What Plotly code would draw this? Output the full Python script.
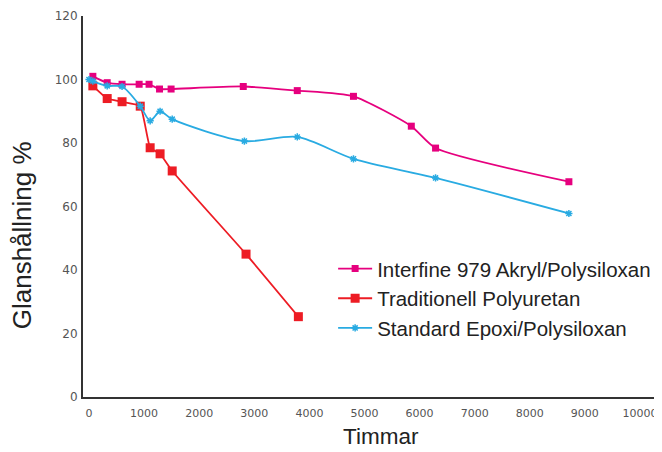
import plotly.graph_objects as go

names = ["Interfine 979 Akryl/Polysiloxan", "Traditionell Polyuretan", "Standard Epoxi/Polysiloxan"]
x_title = "Timmar"
y_title = "Glanshållning %"

x_interfine = [70, 330, 600, 910, 1090, 1280, 1490, 2800, 3780, 4800, 5850, 6290, 8710]
y_interfine = [101, 99, 98.5, 98.5, 98.5, 97, 97, 97.8, 96.5, 94.7, 85.3, 78.4, 67.8]

x_trad = [70, 330, 600, 930, 1110, 1290, 1510, 2850, 3800]
y_trad = [98, 94, 93, 91.6, 78.5, 76.6, 71.2, 45, 25.3]

x_epoxi = [0, 70, 330, 600, 930, 1110, 1290, 1510, 2820, 3780, 4800, 6290, 8710]
y_epoxi = [100, 99.5, 98, 97.8, 91.6, 87, 90, 87.5, 80.6, 81.9, 75, 69, 57.8]

x_ticks = [0, 1000, 2000, 3000, 4000, 5000, 6000, 7000, 8000, 9000, 10000]
y_ticks = [0, 20, 40, 60, 80, 100, 120]

c_pink = "#E6007E"
c_red = "#ED1C24"
c_blue = "#29ABE2"

fig = go.Figure()
fig.add_trace(go.Scatter(x=x_interfine, y=y_interfine, name=names[0], mode="lines+markers",
                         line=dict(color=c_pink, width=1.8, shape="spline", smoothing=0.6),
                         marker=dict(symbol="square", size=7, color=c_pink), legendgroup="a"))
fig.add_trace(go.Scatter(x=x_trad, y=y_trad, name=names[1], mode="lines+markers",
                         line=dict(color=c_red, width=1.8, shape="spline", smoothing=0.4),
                         marker=dict(symbol="square", size=9, color=c_red), legendgroup="b"))
fig.add_trace(go.Scatter(x=x_epoxi, y=y_epoxi, name=names[2], mode="lines+markers",
                         line=dict(color=c_blue, width=1.8, shape="spline", smoothing=0.8),
                         marker=dict(symbol="asterisk-open", size=6, color=c_blue, line=dict(width=1.5, color=c_blue)),
                         legendgroup="c"))

fig.update_layout(
    width=654, height=444,
    margin=dict(l=75, r=0, t=8, b=55),
    plot_bgcolor="white", paper_bgcolor="white",
    font=dict(family="Liberation Sans, Arial, sans-serif", color="#222"),
    showlegend=True,
    legend=dict(x=0.432, y=0.389, xanchor="left", yanchor="top", bgcolor="rgba(0,0,0,0)",
                font=dict(size=20.5, color="#222"), traceorder="grouped", tracegroupgap=0,
                itemwidth=34),
    xaxis=dict(range=[-109, 10400], tickvals=x_ticks, ticktext=[str(v) for v in x_ticks],
               showgrid=False, zeroline=False, showline=True, linecolor="#333", linewidth=2,
               ticks="", tickfont=dict(size=11, color="#555", family="DejaVu Sans"),
               ticklabelstandoff=5, automargin=False),
    yaxis=dict(range=[0, 120], tickvals=y_ticks, ticktext=[str(v) for v in y_ticks],
               showgrid=False, zeroline=False, showline=True, linecolor="#333", linewidth=2,
               ticks="", tickfont=dict(size=12, color="#555", family="DejaVu Sans"),
               ticklabelstandoff=1, automargin=False),
    annotations=[
        dict(text=x_title, xref="paper", yref="paper", x=0.515, y=-0.143,
             xanchor="center", yanchor="bottom", showarrow=False,
             font=dict(size=22.5, color="#222")),
        dict(text=y_title, xref="paper", yref="paper", x=-0.105, y=0.425, textangle=-90,
             xanchor="center", yanchor="middle", showarrow=False,
             font=dict(size=26, color="#222")),
    ],
)

fig.write_html("out.html")
